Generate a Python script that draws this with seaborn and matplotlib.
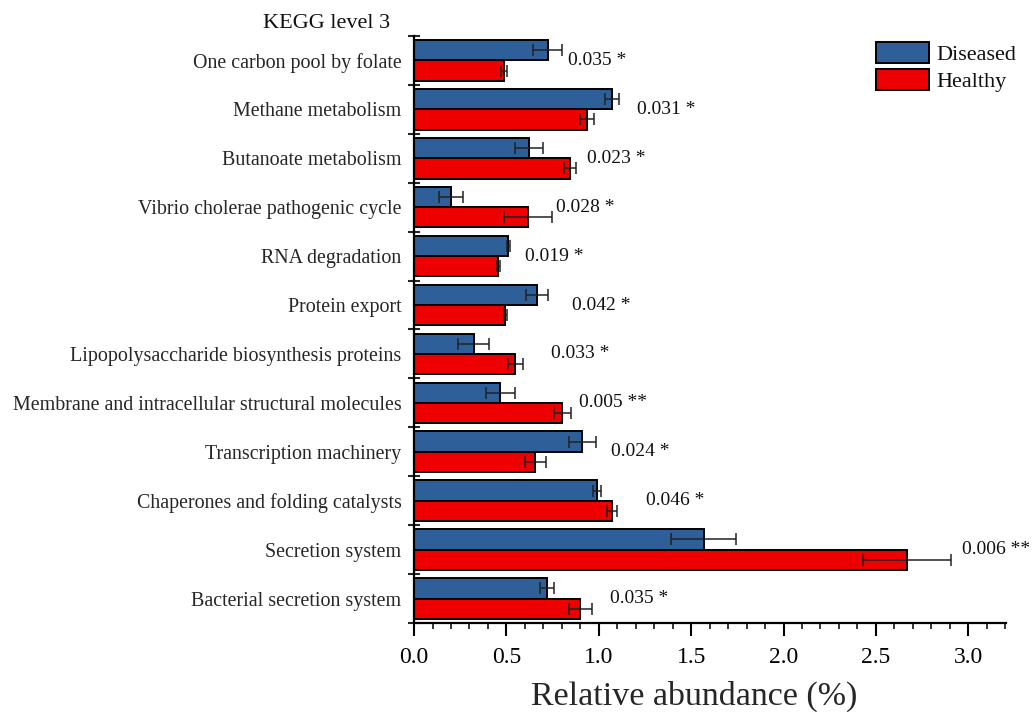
import numpy as np
import pandas as pd
import matplotlib
matplotlib.use("Agg")
import matplotlib.pyplot as plt
from matplotlib.ticker import MultipleLocator
import seaborn as sns

# KEGG level 3 pathways (top to bottom)
pathways = [
    "One carbon pool by folate",
    "Methane metabolism",
    "Butanoate metabolism",
    "Vibrio cholerae pathogenic cycle",
    "RNA degradation",
    "Protein export",
    "Lipopolysaccharide biosynthesis proteins",
    "Membrane and intracellular structural molecules",
    "Transcription machinery",
    "Chaperones and folding catalysts",
    "Secretion system",
    "Bacterial secretion system",
]
groups = ["Diseased", "Healthy"]

diseased_mean = [0.724, 1.074, 0.621, 0.202, 0.511, 0.666, 0.323, 0.468, 0.911, 0.989, 1.567, 0.720]
diseased_err = [0.078, 0.038, 0.076, 0.065, 0.010, 0.060, 0.083, 0.076, 0.074, 0.022, 0.175, 0.040]
healthy_mean = [0.486, 0.938, 0.845, 0.619, 0.457, 0.495, 0.549, 0.803, 0.657, 1.074, 2.668, 0.900]
healthy_err = [0.016, 0.037, 0.032, 0.130, 0.010, 0.010, 0.040, 0.045, 0.058, 0.027, 0.240, 0.063]

p_labels = ["0.035 *", "0.031 *", "0.023 *", "0.028 *", "0.019 *", "0.042 *",
            "0.033 *", "0.005 **", "0.024 *", "0.046 *", "0.006 **", "0.035 *"]

# horizontal gap between each group's longest error bar and its p-value text
label_pad = [0.03, 0.095, 0.06, 0.022, 0.08, 0.13, 0.15, 0.046, 0.08, 0.153, 0.06, 0.097]

colors = {"Diseased": "#2F5F98", "Healthy": "#EE0000"}

df = pd.DataFrame({
    "pathway": pathways * 2,
    "group": ["Diseased"] * len(pathways) + ["Healthy"] * len(pathways),
    "value": diseased_mean + healthy_mean,
})

sns.set_theme(style="white")
plt.rcParams["font.family"] = ["Liberation Serif", "DejaVu Serif"]
plt.rcParams["text.color"] = "#111111"

fig = plt.figure(figsize=(10.33, 7.19), dpi=100)
ax = fig.add_axes([0.4008, 0.1335, 0.5732, 0.8165])

sns.barplot(data=df, y="pathway", x="value", hue="group", order=pathways,
            hue_order=groups, palette=colors, saturation=1, orient="h", width=0.83,
            edgecolor="black", linewidth=1.4, errorbar=None, ax=ax)

errs = {"Diseased": diseased_err, "Healthy": healthy_err}
means = {"Diseased": diseased_mean, "Healthy": healthy_mean}
for cont, g in zip(ax.containers, groups):
    ys = [p.get_y() + p.get_height() / 2 for p in cont.patches]
    ax.errorbar(means[g], ys, xerr=errs[g], fmt="none", ecolor="#222222",
                elinewidth=1.1, capsize=4.3, capthick=1.1, zorder=4)

for i, txt in enumerate(p_labels):
    right = max(diseased_mean[i] + diseased_err[i], healthy_mean[i] + healthy_err[i])
    ax.text(right + label_pad[i], i, txt, ha="left", va="center", fontsize=14)

ax.set_xlim(0, 3.205)
ax.set_ylim(len(pathways) - 0.5, -0.5)
ax.xaxis.set_major_locator(MultipleLocator(0.5))
ax.xaxis.set_minor_locator(MultipleLocator(0.1))
ax.set_yticks(range(len(pathways)))
ax.set_yticklabels(pathways)
ax.set_yticks(np.arange(-0.5, len(pathways), 1.0), minor=True)

ax.tick_params(axis="x", which="major", direction="out", length=9, width=1.5,
               labelsize=17, pad=8, colors="black", bottom=True)
ax.tick_params(axis="x", which="minor", direction="out", length=4.5, width=1.3, bottom=True)
ax.tick_params(axis="y", which="major", length=0, labelsize=14.4, pad=9)
ax.tick_params(axis="y", which="minor", direction="inout", length=8, width=1.5, left=True)

for side in ("top", "right"):
    ax.spines[side].set_visible(False)
for side in ("left", "bottom"):
    ax.spines[side].set_color("black")
    ax.spines[side].set_linewidth(1.6)

ax.set_xlabel("Relative abundance (%)", fontsize=24.5)
ax.xaxis.set_label_coords(0.473, -0.125)
ax.xaxis.label.set_va("center")
ax.set_ylabel("")

fig.text(0.3775, 0.968, "KEGG level 3", ha="right", va="center", fontsize=16)

handles, labels = ax.get_legend_handles_labels()
ax.legend(handles, labels, loc="upper left", bbox_to_anchor=(0.837, 0.957),
          bbox_transform=fig.transFigure, frameon=False, fontsize=16,
          handlelength=2.4, handleheight=1.1, labelspacing=0.15,
          handletextpad=0.35, borderpad=0)

fig.savefig("out.png", dpi=100, facecolor="white")
